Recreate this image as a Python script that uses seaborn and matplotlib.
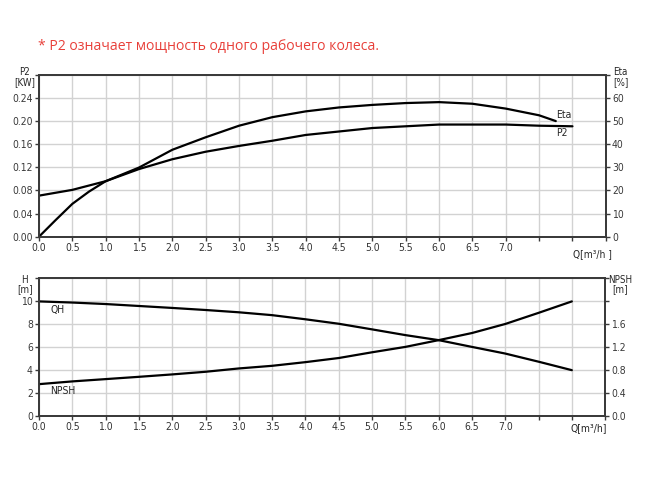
import numpy as np
import seaborn as sns
import matplotlib.pyplot as plt

# flow points, m3/h
q = [0.0, 0.5, 1.0, 1.5, 2.0, 2.5, 3.0, 3.5, 4.0, 4.5, 5.0, 5.5, 6.0, 6.5, 7.0, 7.5, 8.0]
p2_kw = [0.071, 0.081, 0.096, 0.117, 0.134, 0.147, 0.157, 0.166, 0.176, 0.182,
         0.188, 0.191, 0.194, 0.194, 0.194, 0.192, 0.191]
q_eta = [0.0, 0.25, 0.5, 0.75, 1.0, 1.5, 2.0, 2.5, 3.0, 3.5, 4.0, 4.5, 5.0, 5.5, 6.0,
         6.5, 7.0, 7.5, 7.75]
eta_pct = [0.0, 7.2, 14.2, 19.5, 24.0, 29.9, 37.6, 43.0, 48.0, 51.7, 54.2, 55.9, 57.0,
           57.8, 58.2, 57.5, 55.4, 52.5, 50.0]
qh_m = [10.0, 9.9, 9.77, 9.6, 9.43, 9.25, 9.05, 8.8, 8.44, 8.05, 7.56, 7.06, 6.62,
        6.03, 5.45, 4.74, 4.0]
npsh_m = [0.556, 0.604, 0.644, 0.684, 0.726, 0.772, 0.83, 0.876, 0.94, 1.012, 1.112,
          1.206, 1.324, 1.448, 1.606, 1.8, 2.0]

x_ticks = np.arange(0, 8.51, 0.5)
x_labels = [f"{v:.1f}" if v <= 7.0 else "" for v in x_ticks]

sns.set_style("whitegrid", {"grid.color": "#d2d2d2", "axes.edgecolor": "#3a3a3a"})
plt.rcParams['font.family'] = ['DejaVu Sans']
plt.rcParams['font.stretch'] = 'condensed'
plt.rcParams['xtick.bottom'] = True
plt.rcParams['ytick.left'] = True

fig = plt.figure(figsize=(6.5, 4.86), dpi=100)

fig.text(0.058, 0.905, "* P2 означает мощность одного рабочего колеса.",
         color="#e8403a", fontsize=10.1, va='center',
         family=['Open Sans', 'DejaVu Sans'], stretch='normal')


def style_axes(ax, axr):
    ax.set_xlim(0, 8.5)
    ax.set_xticks(x_ticks)
    ax.set_xticklabels(x_labels)
    ax.grid(True, color="#d2d2d2", lw=1.0)
    axr.grid(False)
    for a in (ax, axr):
        for s in a.spines.values():
            s.set_color("#3a3a3a")
            s.set_linewidth(1.3)
        a.tick_params(length=3, width=1, colors="#3a3a3a", labelsize=7.5, pad=1.5)
    ax.tick_params(axis='x', labelcolor="#333333")
    axr.tick_params(axis='y', right=True, labelright=True)


# top: P2 and Eta
ax1 = fig.add_axes([0.06, 0.513, 0.872, 0.333])
ax1r = ax1.twinx()
sns.lineplot(x=q, y=p2_kw, ax=ax1, color="black", lw=1.6)
sns.lineplot(x=q_eta, y=eta_pct, ax=ax1r, color="black", lw=1.6)
ax1.set_ylim(0, 0.28)
ax1.set_yticks(np.arange(0, 0.281, 0.04))
ax1.set_yticklabels([f"{v:.2f}" for v in np.arange(0, 0.241, 0.04)] + [""])
ax1r.set_ylim(0, 70)
ax1r.set_yticks(np.arange(0, 71, 10))
ax1r.set_yticklabels([str(v) for v in range(0, 61, 10)] + [""])
style_axes(ax1, ax1r)
ax1.text(-0.025, 0.985, "P2\n[KW]", transform=ax1.transAxes, ha='center', va='center',
         fontsize=7, linespacing=0.95)
ax1r.text(1.026, 0.985, "Eta\n[%]", transform=ax1.transAxes, ha='center', va='center',
          fontsize=7, linespacing=0.95)
ax1r.text(q_eta[-1], eta_pct[-1] + 0.5, "Eta", fontsize=7.5, va='bottom', ha='left')
ax1.text(7.75, p2_kw[-1] - 0.003, "P2", fontsize=7.5, va='top', ha='left')
ax1.text(8.3, -0.021, "Q[m³/h ]", fontsize=7.3, va='top', ha='center')

# bottom: QH and NPSH
ax2 = fig.add_axes([0.06, 0.144, 0.871, 0.283])
ax2r = ax2.twinx()
sns.lineplot(x=q, y=qh_m, ax=ax2, color="black", lw=1.6)
sns.lineplot(x=q, y=npsh_m, ax=ax2r, color="black", lw=1.6)
ax2.set_ylim(0, 12)
ax2.set_yticks(np.arange(0, 12.1, 2))
ax2.set_yticklabels([str(v) for v in range(0, 11, 2)] + [""])
ax2r.set_ylim(0, 2.4)
ax2r.set_yticks(np.arange(0, 2.41, 0.4))
ax2r.set_yticklabels([f"{v:.1f}" for v in np.arange(0, 1.61, 0.4)] + ["", ""])
style_axes(ax2, ax2r)
ax2.text(-0.025, 0.955, "H\n[m]", transform=ax2.transAxes, ha='center', va='center',
         fontsize=7, linespacing=0.95)
ax2r.text(1.026, 0.955, "NPSH\n[m]", transform=ax2.transAxes, ha='center', va='center',
          fontsize=7, linespacing=0.95)
ax2.text(0.17, qh_m[0] - 0.3, "QH", fontsize=7.5, va='top', ha='left')
ax2r.text(0.17, npsh_m[0] - 0.04, "NPSH", fontsize=7.5, va='top', ha='left')
ax2.text(8.25, -0.6, "Q[m³/h]", fontsize=7.5, va='top', ha='center')

fig.savefig("out.png", dpi=100)
